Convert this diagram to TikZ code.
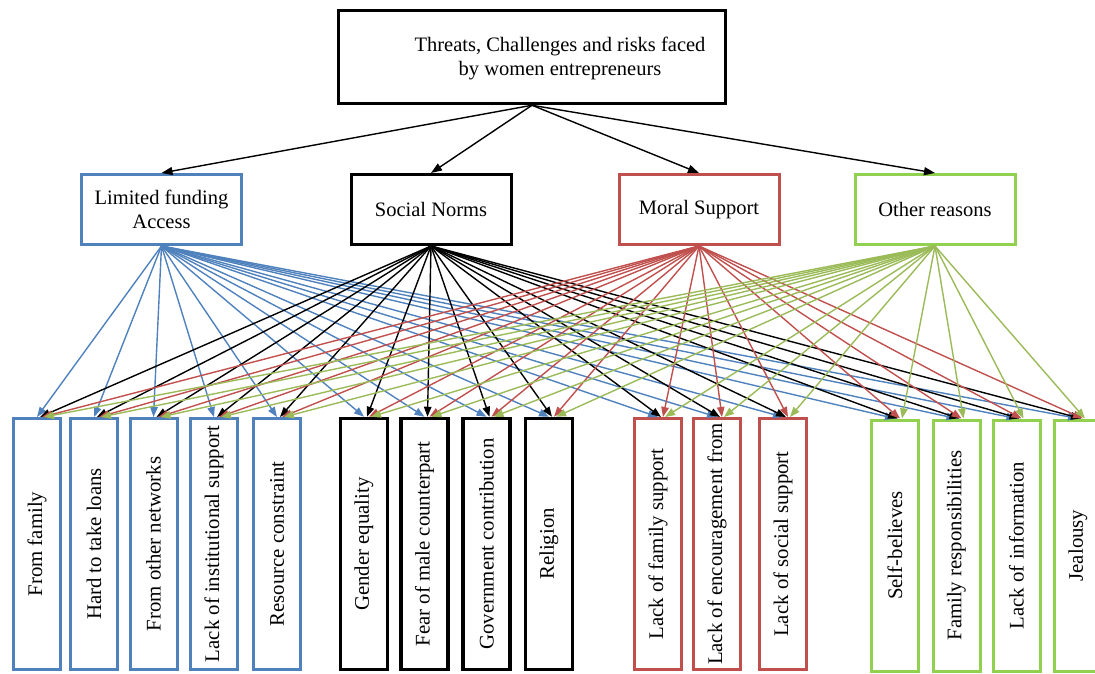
\documentclass[tikz,border=0pt]{standalone}
\usepackage{fontspec}
\setmainfont{Liberation Serif}
\usetikzlibrary{arrows.meta,calc}

\definecolor{fundblue}{RGB}{79,129,189}
\definecolor{moralred}{RGB}{192,80,77}
\definecolor{otherline}{RGB}{155,187,89}
\definecolor{othergreen}{RGB}{146,208,80}

\begin{document}
\begin{tikzpicture}[x=1pt,y=-1pt,
    txt/.style={align=center,inner sep=0pt,font=\fontsize{20.5}{24}\selectfont},
    box/.style={txt,draw,line width=3pt,fill=white},
    midbox/.style={box,minimum width=160pt,minimum height=70pt},
    leafbox/.style={box,minimum width=47pt,minimum height=251pt,font=\fontsize{20.8}{24}\selectfont},
    link/.style={line width=1.4pt,-{Triangle[length=10pt,width=7.5pt]}}]

    \useasboundingbox (0,0) rectangle (1095,673);

    % top box
    \node[box,line width=3.5pt,minimum width=387pt,minimum height=93pt] (top) at (532,57) {};
    \node[txt] (title) at (560,58) {Threats, Challenges and risks faced\\by women entrepreneurs};

    % categories
    \node[midbox,draw=fundblue] (fund) at (161.5,209.5) {Limited funding\\Access};
    \node[midbox,draw=black] (norms) at (431,209.5) {Social Norms};
    \node[midbox,draw=moralred] (moral) at (699,209.5) {Moral Support};
    \node[midbox,draw=othergreen] (other) at (935,209.5) {Other reasons};

    \foreach \n in {fund,norms,moral,other} {
        \draw[line width=1.4pt,-{Triangle[length=11pt,width=8pt]}] (top.south) -- (\n.north);
    }

    % leaves
    \node[leafbox,draw=fundblue] (f1) at (37,544) {\rotatebox{90}{From family}};
    \node[leafbox,draw=fundblue] (f2) at (94,544) {\rotatebox{90}{Hard to take loans}};
    \node[leafbox,draw=fundblue] (f3) at (153.5,544) {\rotatebox{90}{From other networks}};
    \node[leafbox,draw=fundblue] (f4) at (214,544) {\rotatebox{90}{Lack of institutional support}};
    \node[leafbox,draw=fundblue] (f5) at (277,544) {\rotatebox{90}{Resource constraint}};

    \node[leafbox,draw=black,line width=3.5pt] (s1) at (364,544) {\rotatebox{90}{Gender equality}};
    \node[leafbox,draw=black,line width=3.5pt] (s2) at (424.5,544) {\rotatebox{90}{Fear of male counterpart}};
    \node[leafbox,draw=black,line width=3.5pt] (s3) at (486.5,544) {\rotatebox{90}{Government contribution}};
    \node[leafbox,draw=black,line width=3.5pt] (s4) at (549,544) {\rotatebox{90}{Religion}};

    \node[leafbox,draw=moralred] (m1) at (658,544) {\rotatebox{90}{Lack of family support}};
    \node[leafbox,draw=moralred] (m2) at (717,544) {\rotatebox{90}{Lack of encouragement from}};
    \node[leafbox,draw=moralred] (m3) at (783,544) {\rotatebox{90}{Lack of social support}};

    \node[leafbox,draw=othergreen] (o1) at (895,545.5) {\rotatebox{90}{Self-believes}};
    \node[leafbox,draw=othergreen] (o2) at (956.5,545.5) {\rotatebox{90}{Family responsibilities}};
    \node[leafbox,draw=othergreen] (o3) at (1016.5,545.5) {\rotatebox{90}{Lack of information}};
    \node[leafbox,draw=othergreen] (o4) at (1078,545.5) {\rotatebox{90}{Jealousy}};

    % every category points at every leaf
    \foreach \src/\col/\off in {fund/fundblue/0,norms/black/3,moral/moralred/5,other/otherline/7} {
        \foreach \v in {f1,f2,f3,f4,f5,s1,s2,s3,s4,m1,m2,m3,o1,o2,o3,o4} {
            \draw[link,\col] (\src.south) -- ($(\v.north)+(\off,0)$);
        }
    }

\end{tikzpicture}
\end{document}
